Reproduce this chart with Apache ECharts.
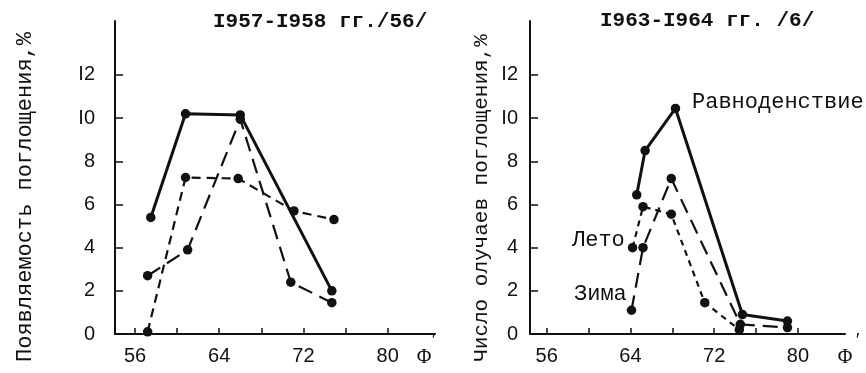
<!DOCTYPE html>
<html><head><meta charset="utf-8">
<script src="https://cdn.jsdelivr.net/npm/echarts@6/dist/echarts.min.js"></script>
<style>html,body{margin:0;padding:0;background:#fff}#c{width:866px;height:373px}</style>
</head><body><div id="c"></div>
<script>
// ---- data ----
const xTickValues = [56, 60, 64, 68, 72, 76, 80];
const xLabelValues = [56, 64, 72, 80];
const yTickValues = [2, 4, 6, 8, 10, 12];
const yLabelValues = [0, 2, 4, 6, 8, 10, 12];
const yLabelTexts = ['0', '2', '4', '6', '8', 'I0', 'I2'];

// 1957-1958
const leftSolidLat = [57.5, 60.8, 66.0, 74.7];
const leftSolidVal = [5.4, 10.2, 10.15, 2.0];
const leftMedLat = [57.2, 60.8, 65.8, 71.1, 74.9];
const leftMedVal = [0.1, 7.25, 7.2, 5.7, 5.3];
const leftLongLat = [57.2, 61.0, 66.0, 70.8, 74.7];
const leftLongVal = [2.7, 3.9, 9.95, 2.4, 1.45];

// 1963-1964
const equinoxLat = [64.6, 65.4, 68.3, 74.7, 79.0];
const equinoxVal = [6.45, 8.5, 10.45, 0.9, 0.6];
const winterLat = [64.1, 65.2, 67.9, 74.5, 79.0];
const winterVal = [1.1, 4.0, 7.2, 0.45, 0.3];
const summerLat = [64.2, 65.2, 67.9, 71.1, 74.4];
const summerVal = [4.0, 5.9, 5.55, 1.45, 0.2];

const titleLeft = 'I957-I958 гг./56/';
const titleRight = 'I963-I964 гг. /6/';
const yNameLeft = 'Появляемость поглощения,%';
const yNameRight = 'Число олучаев поглощения,%';
const labelEquinox = 'Равноденствие';
const labelSummer = 'Лето';
const labelWinter = 'Зима';

// ---- chart ----
const INK = '#111';
const pairs = (xs, ys) => xs.map((x, i) => [x, ys[i]]);
const tickFont = 'Liberation Sans, Arial, sans-serif';
const typeFont = 'Liberation Mono, DejaVu Sans Mono, monospace';

function xAxis(gridIndex, min, max) {
  return {
    type: 'value', gridIndex, min, max,
    axisLine: { show: true, onZero: false, lineStyle: { color: INK, width: 2 } },
    axisTick: { show: true, inside: true, length: 6, lineStyle: { color: INK, width: 1.5 }, customValues: xTickValues },
    axisLabel: { show: true, customValues: xLabelValues, color: INK, fontSize: 20, fontFamily: tickFont, margin: 12 },
    splitLine: { show: false }
  };
}
function yAxis(gridIndex, margin) {
  return {
    type: 'value', gridIndex, min: 0, max: 14.5,
    axisLine: { show: true, onZero: false, lineStyle: { color: INK, width: 2 } },
    axisTick: { show: true, inside: true, length: 8, lineStyle: { color: INK, width: 1.5 }, customValues: yTickValues },
    axisLabel: {
      show: true, customValues: yLabelValues, color: INK, fontSize: 20, fontFamily: tickFont, margin,
      formatter: v => yLabelTexts[yLabelValues.indexOf(v)]
    },
    splitLine: { show: false }
  };
}
function line(xi, data, width, type) {
  return {
    type: 'line', xAxisIndex: xi, yAxisIndex: xi, data,
    symbol: 'circle', symbolSize: 9.5, showSymbol: true,
    itemStyle: { color: INK },
    lineStyle: { color: INK, width, type },
    animation: false, z: 3
  };
}

const chart = echarts.init(document.getElementById('c'), null, { renderer: 'canvas' });
chart.setOption({
  backgroundColor: '#fff',
  animation: false,
  grid: [
    { left: 115, top: 21, width: 320, height: 313 },
    { left: 530, top: 21, width: 315, height: 313 }
  ],
  xAxis: [xAxis(0, 54.1, 84.5), xAxis(1, 54.4, 84.5)],
  yAxis: [yAxis(0, 20), yAxis(1, 12)],
  series: [
    line(0, pairs(leftSolidLat, leftSolidVal), 3, 'solid'),
    line(0, pairs(leftMedLat, leftMedVal), 2.2, [9, 6]),
    line(0, pairs(leftLongLat, leftLongVal), 2.2, [15, 8]),
    line(1, pairs(equinoxLat, equinoxVal), 3, 'solid'),
    line(1, pairs(winterLat, winterVal), 2.2, [15, 8]),
    line(1, pairs(summerLat, summerVal), 2.2, [6, 5])
  ],
  graphic: [
    { type: 'text', left: 213, top: 11, style: { text: titleLeft, font: 'bold 21px ' + typeFont, fill: INK } },
    { type: 'text', left: 600, top: 10, style: { text: titleRight, font: 'bold 21px ' + typeFont, fill: INK } },
    { type: 'text', x: 25, y: 197, rotation: Math.PI / 2, style: { text: yNameLeft, font: '22px ' + typeFont, fill: INK, align: 'center', verticalAlign: 'middle' } },
    { type: 'text', x: 481, y: 198, rotation: Math.PI / 2, style: { text: yNameRight, font: '21px ' + typeFont, fill: INK, align: 'center', verticalAlign: 'middle' } },
    { type: 'text', x: 692, y: 102, style: { text: labelEquinox, font: '22px ' + typeFont, fill: INK, verticalAlign: 'middle' } },
    { type: 'text', x: 572, y: 240, style: { text: labelSummer, font: '22px ' + typeFont, fill: INK, verticalAlign: 'middle' } },
    { type: 'text', x: 574, y: 294, style: { text: labelWinter, font: '22px ' + typeFont, fill: INK, verticalAlign: 'middle' } },
    { type: 'text', x: 424, y: 358, style: { text: 'Φ', font: '20px Liberation Serif, serif', fill: INK, align: 'center', verticalAlign: 'middle' } },
    { type: 'text', x: 434, y: 342, style: { text: '′', font: '20px Liberation Serif, serif', fill: INK, align: 'center', verticalAlign: 'middle' } },
    { type: 'text', x: 845, y: 358, style: { text: 'Φ', font: '20px Liberation Serif, serif', fill: INK, align: 'center', verticalAlign: 'middle' } },
    { type: 'text', x: 858, y: 342, style: { text: '′', font: '20px Liberation Serif, serif', fill: INK, align: 'center', verticalAlign: 'middle' } }
  ]
});
</script>
</body></html>
